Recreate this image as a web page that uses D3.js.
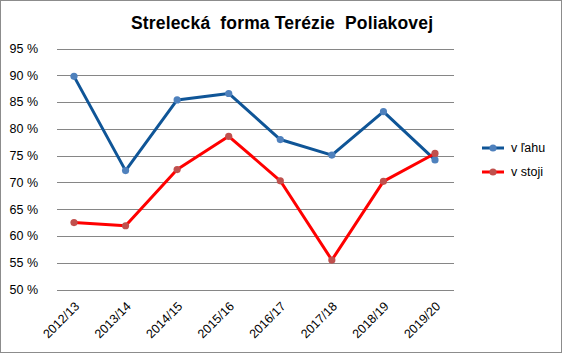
<!DOCTYPE html>
<html>
<head>
<meta charset="utf-8">
<script src="https://cdn.jsdelivr.net/npm/d3@7"></script>
<style>
  body { margin: 0; background: #fff; }
  svg { display: block; }
</style>
</head>
<body>
<div id="chart"></div>
<script>
// seasons on the x axis
var seasons = ["2012/13", "2013/14", "2014/15", "2015/16", "2016/17", "2017/18", "2018/19", "2019/20"];
// shooting accuracy, percent
var prone = [89.8, 72.2, 85.4, 86.6, 78.0, 75.1, 83.2, 74.2];
var standing = [62.5, 61.9, 72.4, 78.6, 70.3, 55.5, 70.2, 75.4];
var yTicks = [50, 55, 60, 65, 70, 75, 80, 85, 90, 95];
var seriesNames = ["v ľahu", "v stoji"];

var w = 562, h = 353;
var font = "'Liberation Sans', Arial, sans-serif";

var svg = d3.select("#chart").append("svg")
  .attr("width", w)
  .attr("height", h);

// outer border of the chart area
svg.append("rect")
  .attr("x", 0.5).attr("y", 0.5)
  .attr("width", w - 1).attr("height", h - 1)
  .attr("fill", "#fff")
  .attr("stroke", "#8c8c8c");

var x = d3.scalePoint()
  .domain(seasons)
  .range([74, 435]);

var y = d3.scaleLinear()
  .domain([50, 95])
  .range([289.5, 48.5]);

// gridlines
svg.selectAll("line.grid")
  .data(yTicks)
  .enter()
  .append("line")
  .attr("class", "grid")
  .attr("x1", 57)
  .attr("x2", 454)
  .attr("y1", function(d) { return Math.round(y(d)) + 0.5; })
  .attr("y2", function(d) { return Math.round(y(d)) + 0.5; })
  .attr("stroke", "#868686")
  .attr("stroke-width", 1.2);

// y axis labels
svg.selectAll("text.ylab")
  .data(yTicks)
  .enter()
  .append("text")
  .attr("class", "ylab")
  .text(function(d) { return d + " %"; })
  .attr("x", 38)
  .attr("y", function(d) { return y(d); })
  .attr("dy", "0.35em")
  .attr("text-anchor", "end")
  .attr("font-family", font)
  .attr("font-size", "12.5px")
  .attr("fill", "#000");

// x axis labels, rotated
svg.selectAll("text.xlab")
  .data(seasons)
  .enter()
  .append("text")
  .attr("class", "xlab")
  .text(function(d) { return d; })
  .attr("transform", function(d) {
    return "translate(" + (x(d) + 3) + ",304) rotate(-45)";
  })
  .attr("text-anchor", "end")
  .attr("dy", "0.35em")
  .attr("font-family", font)
  .attr("font-size", "12.5px")
  .attr("fill", "#000");

var series = [
  { name: seriesNames[0], values: prone, line: "#0f5597", dot: "#4f81bd" },
  { name: seriesNames[1], values: standing, line: "#ff0000", dot: "#c0504d" }
];

var line = d3.line()
  .x(function(d, i) { return x(seasons[i]); })
  .y(function(d) { return y(d); });

series.forEach(function(s) {
  svg.append("path")
    .datum(s.values)
    .attr("d", line)
    .attr("fill", "none")
    .attr("stroke", s.line)
    .attr("stroke-width", 3)
    .attr("stroke-linejoin", "round");

  svg.selectAll(null)
    .data(s.values)
    .enter()
    .append("circle")
    .attr("cx", function(d, i) { return x(seasons[i]); })
    .attr("cy", function(d) { return y(d); })
    .attr("r", 3.6)
    .attr("fill", s.dot);
});

// legend
var legend = svg.selectAll("g.legend")
  .data(series)
  .enter()
  .append("g")
  .attr("class", "legend")
  .attr("transform", function(d, i) { return "translate(482," + (148 + i * 24) + ")"; });

legend.append("line")
  .attr("x1", 0).attr("x2", 22)
  .attr("stroke", function(d) { return d.line; })
  .attr("stroke-width", 3);

legend.append("circle")
  .attr("cx", 11)
  .attr("r", 3.6)
  .attr("fill", function(d) { return d.dot; });

legend.append("text")
  .text(function(d) { return d.name; })
  .attr("x", 29)
  .attr("dy", "0.35em")
  .attr("font-family", font)
  .attr("font-size", "12.5px")
  .attr("fill", "#000");

// title
svg.append("text")
  .text("Strelecká  forma Terézie  Poliakovej")
  .attr("x", 131)
  .attr("y", 29)
  .attr("textLength", 302)
  .attr("lengthAdjust", "spacing")
  .attr("xml:space", "preserve")
  .style("white-space", "pre")
  .attr("font-family", font)
  .attr("font-weight", "bold")
  .attr("font-size", "17.5px")
  .attr("fill", "#000");
</script>
</body>
</html>
